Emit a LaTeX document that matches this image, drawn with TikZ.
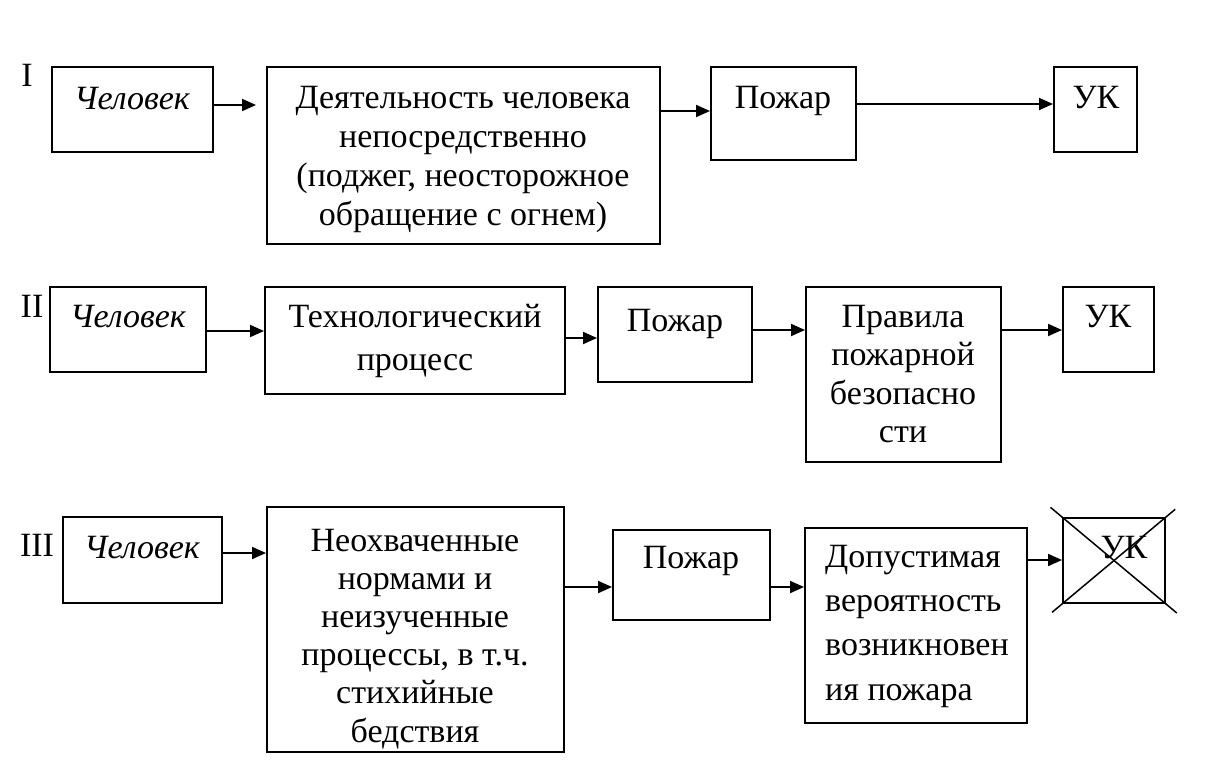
\documentclass[tikz,border=0pt]{standalone}
\usepackage{fontspec}
\setmainfont{Liberation Serif}
\usetikzlibrary{arrows.meta}
\begin{document}
\begin{tikzpicture}[x=1pt,y=-1pt,
  box/.style={draw, line width=2pt, inner sep=0pt},
  txt/.style={inner sep=0pt, anchor=base, align=center, font=\fontsize{34}{39}\selectfont},
  itxt/.style={txt, font=\fontsize{34}{39}\selectfont\itshape},
  arr/.style={line width=2pt, -{Triangle[length=14pt,width=12pt]}}]
\useasboundingbox (0,0) rectangle (1222,779);
% row labels
\node[txt] (L1) at (27,86) {I};
\node[txt] (L2) at (32,317) {II};
\node[txt] (L3) at (37,556) {III};
% row I
\node[box, minimum width=161pt, minimum height=85pt] (A1) at (132.5,109.5) {};
\node[box, minimum width=393pt, minimum height=177pt] (B1) at (463.5,155.5) {};
\node[box, minimum width=145pt, minimum height=93pt] (C1) at (783.5,113.5) {};
\node[box, minimum width=83pt, minimum height=85pt] (D1) at (1095.5,109.5) {};
\node[itxt] (tA1) at (132,109) {Человек};
\node[txt] (tB1) at (463,225) {Деятельность человека\\непосредственно\\(поджег, неосторожное\\обращение с огнем)};
\node[txt] (tC1) at (783,108) {Пожар};
\node[txt] (tD1) at (1096,108) {УК};
\draw[arr, shorten >=10pt] (A1.east |- 0,105) -- (B1.west |- 0,105);
\draw[arr] (B1.east |- 0,111) -- (C1.west |- 0,111);
\draw[arr] (C1.east |- 0,104) -- (D1.west |- 0,104);
% row II
\node[box, minimum width=156pt, minimum height=85pt] (A2) at (128,329.5) {};
\node[box, minimum width=300pt, minimum height=107pt] (B2) at (415,340.5) {};
\node[box, minimum width=154pt, minimum height=95pt] (C2) at (675,334.5) {};
\node[box, minimum width=195pt, minimum height=175pt] (D2) at (903.5,374.5) {};
\node[box, minimum width=91pt, minimum height=85pt] (E2) at (1108.5,329.5) {};
\node[itxt] (tA2) at (128,327) {Человек};
\node[txt, font=\fontsize{34}{43}\selectfont] (tB2) at (415,370) {Технологический\\процесс};
\node[txt] (tC2) at (675,331) {Пожар};
\node[txt, font=\fontsize{34}{38.5}\selectfont] (tD2) at (903,442.5) {Правила\\пожарной\\безопасно\\сти};
\node[txt] (tE2) at (1108,327) {УК};
\draw[arr] (A2.east |- 0,331) -- (B2.west |- 0,331);
\draw[arr] (B2.east |- 0,338) -- (C2.west |- 0,338);
\draw[arr] (C2.east |- 0,330) -- (D2.west |- 0,330);
\draw[arr] (D2.east |- 0,330) -- (E2.west |- 0,330);
% row III
\node[box, minimum width=159pt, minimum height=86pt] (A3) at (142.5,560) {};
\node[box, minimum width=297pt, minimum height=245pt] (B3) at (415.5,629.5) {};
\node[box, minimum width=157pt, minimum height=90pt] (C3) at (691.5,575) {};
\node[box, minimum width=222pt, minimum height=195pt] (D3) at (916,625.5) {};
\node[box, minimum width=102pt, minimum height=85pt] (E3) at (1114,560.5) {};
\node[itxt] (tA3) at (142,558) {Человек};
\node[txt, font=\fontsize{34}{38.2}\selectfont] (tB3) at (415,742) {Неохваченные\\нормами и\\неизученные\\процессы, в т.ч.\\стихийные\\бедствия};
\node[txt] (tC3) at (691,568) {Пожар};
\node[txt, anchor=base west, align=left, font=\fontsize{34}{44.3}\selectfont] (tD3) at (825,700) {Допустимая\\вероятность\\возникновен\\ия пожара};
\node[txt] (tE3) at (1124,558) {УК};
\draw[arr] (A3.east |- 0,553) -- (B3.west |- 0,553);
\draw[arr] (B3.east |- 0,587) -- (C3.west |- 0,587);
\draw[arr] (C3.east |- 0,587) -- (D3.west |- 0,587);
\draw[arr] (D3.east |- 0,560) -- (E3.west |- 0,560);
\draw[line width=1.5pt, shorten <=-15pt, shorten >=-14pt] (E3.north west) -- (E3.south east);
\draw[line width=1.5pt, shorten <=-12pt, shorten >=-13pt] (E3.north east) -- (E3.south west);
\end{tikzpicture}
\end{document}
